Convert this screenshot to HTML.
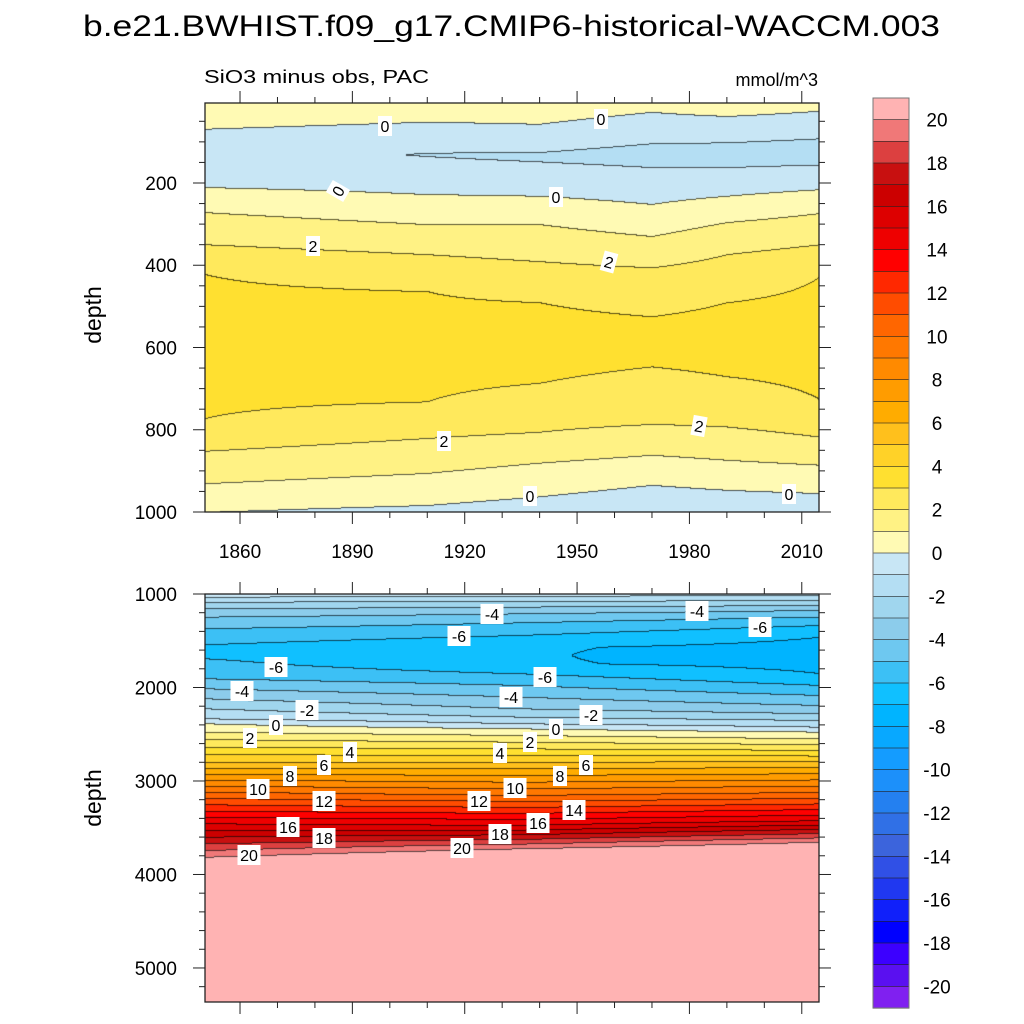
<!DOCTYPE html>
<html><head><meta charset="utf-8">
<style>
body{margin:0;background:#fff;width:1024px;height:1024px;overflow:hidden;font-family:"Liberation Sans",Arial,sans-serif}
#wrap{position:relative;width:1024px;height:1024px}
canvas{position:absolute}
svg{position:absolute;left:0;top:0}
</style></head><body>
<div id="wrap">
<canvas id="cTop" width="614" height="409" style="left:205px;top:103px"></canvas>
<canvas id="cBot" width="614" height="408" style="left:205px;top:594px"></canvas>
<svg id="svg" width="1024" height="1024">
<text x="83" y="36" font-size="30" textLength="857" lengthAdjust="spacingAndGlyphs">b.e21.BWHIST.f09_g17.CMIP6-historical-WACCM.003</text>
<text x="204" y="83" font-size="18" textLength="225" lengthAdjust="spacingAndGlyphs">SiO3 minus obs, PAC</text>
<text x="818" y="86" font-size="18" text-anchor="end">mmol/m^3</text>
<text transform="translate(101,315) rotate(-90)" font-size="23" text-anchor="middle">depth</text>
<text transform="translate(101,798) rotate(-90)" font-size="23" text-anchor="middle">depth</text>
</svg>
</div>
<script>
// ---- data ----
const levels = [-21,-20,-19,-18,-17,-16,-15,-14,-13,-12,-11,-10,-9,-8,-7,-6,-5,-4,-3,-2,-1,0,1,2,3,4,5,6,7,8,9,10,11,12,13,14,15,16,17,18,19,20,21];
const levelColors = ["#8020F0","#5A10F0","#3C00FF","#0000FF","#1020FA","#2038F0","#3050E6","#3C64DC","#3070E6","#2480F0","#1C90FA","#149CFF","#08A8FF","#00B4FF","#10C0FF","#3CC0F5","#6EC8F0","#8CCCEB","#A0D6EE","#B4DEF3","#C8E6F5",
"#FFFAB4","#FFF284","#FFE95C","#FFE030","#FFD228","#FFC01C","#FFAC00","#FF9C00","#FF8A00","#FF7800","#FF6600","#FF4C00","#FF2800","#FF0000","#EE0000","#DD0000","#CC0000","#C81010","#DC4040","#F07878","#FFB3B3"];
const cbLabels = ["20","18","16","14","12","10","8","6","4","2","0","-2","-4","-6","-8","-10","-12","-14","-16","-18","-20"];

// upper panel: profiles (depth m -> value) at several years
const topYears = [1851, 1910, 1940, 1970, 1990, 2015];
const topDepths = [
 [5, 68, 130, 210, 271, 349, 422, 600, 771, 851, 930, 1000],
 [5, 51, 130, 227, 300, 373, 463, 600, 731, 820, 905, 983],
 [5, 56, 135, 231, 300, 390, 490, 590, 686, 805, 880, 962],
 [5, 27, 130, 251, 329, 405, 524, 585, 646, 786, 861, 934],
 [5, 37, 130, 231, 295, 373, 490, 580, 670, 792, 873, 946],
 [5, 24, 125, 215, 273, 349, 426, 580, 727, 817, 885, 954]
];
const topValues = [
 [0.8, 0, -0.6, 0, 1, 2, 3, 3.6, 3, 2, 1, 0],
 [0.6, 0, -1.05, 0, 1, 2, 3, 3.5, 3, 2, 1, 0],
 [0.6, 0, -1.15, 0, 1, 2, 3, 3.5, 3, 2, 1, 0],
 [0.6, 0, -1.35, 0, 1, 2, 3, 3.4, 3, 2, 1, 0],
 [0.6, 0, -1.45, 0, 1, 2, 3, 3.5, 3, 2, 1, 0],
 [0.6, 0, -1.5, 0, 1, 2, 3, 3.5, 3, 2, 1, 0]
];
const topBottomValue = [-0.05, -0.3, -0.5, -0.8, -0.7, -0.6];

// lower panel
const botYears = [1851, 1935, 2015];
const botDepths = [
 [1000,1029,1082,1153,1242,1367,1538,1613,1688,1902,2009,2116,2223,2330,2383,2472,2793,3114,3453,3810,3880,5400],
 [1000,1018,1075,1135,1207,1303,1438,1563,1742,1848,1973,2098,2223,2312,2383,2437,2508,2830,3150,3470,3720,3790,5400],
 [1000,1011,1064,1118,1171,1242,1332,1456,1652,1848,1973,2080,2187,2276,2348,2419,2472,2544,2850,3150,3420,3649,3720,5400]
];
const botValues = [
 [-0.5,-1,-2,-3,-4,-5,-6,-6.6,-6,-5,-4,-3,-2,-1,0,1,5,10,15,20,21.2,22],
 [-0.5,-1,-2,-3,-4,-5,-6,-6.9,-6.9,-6,-5,-4,-3,-2,-1,0,1,5.5,10,15,20,21.2,22],
 [-0.5,-1,-2,-3,-4,-5,-6,-7,-7.5,-7,-6,-5,-4,-3,-2,-1,0,1,6,10.5,15,20,21.2,22]
];

// ---- axes ----
const X0=205, X1=819, Y0T=103, Y1T=512, Y0B=594, Y1B=1002;
const yrMin=1850.65, yrMax=2014.6;
const xScale = yr => X0 + (yr-yrMin)/(yrMax-yrMin)*(X1-X0);
const dTop0=5.5, dTop1=1000, dBot0=1000, dBot1=5364;
const yTop = d => Y0T + (d-dTop0)/(dTop1-dTop0)*(Y1T-Y0T);
const yBot = d => Y0B + (d-dBot0)/(dBot1-dBot0)*(Y1B-Y0B);

function interpProfile(ds, vs, d){
  if(d<=ds[0]) return vs[0];
  for(let i=1;i<ds.length;i++){ if(d<=ds[i]){const t=(d-ds[i-1])/(ds[i]-ds[i-1]);return vs[i-1]+t*(vs[i]-vs[i-1]);} }
  return vs[vs.length-1];
}
function field(years, depthsArr, valsArr, yr, d){
  let i=0; while(i<years.length-2 && yr>years[i+1]) i++;
  let t=(yr-years[i])/(years[i+1]-years[i]); t=Math.max(0,Math.min(1,t));
  const a=interpProfile(depthsArr[i],valsArr[i],d), b=interpProfile(depthsArr[i+1],valsArr[i+1],d);
  return a+t*(b-a);
}
function lvl(v){ let k=Math.floor(v)+21; return Math.max(0,Math.min(41,k)); }
function hex(c){return [parseInt(c.substr(1,2),16),parseInt(c.substr(3,2),16),parseInt(c.substr(5,2),16)];}
const rgb = levelColors.map(hex);

function render(canvasId, fn, yInv){
  const cv=document.getElementById(canvasId), ctx=cv.getContext('2d');
  const W=cv.width,H=cv.height, img=ctx.createImageData(W,H);
  const L=new Int16Array(W*H);
  for(let py=0;py<H;py++){ const d=yInv(py+0.5);
    for(let px=0;px<W;px++){ const yr=yrMin+(px+0.5)/W*(yrMax-yrMin); L[py*W+px]=lvl(fn(yr,d)); } }
  for(let py=0;py<H;py++) for(let px=0;px<W;px++){
    const k=L[py*W+px]; let c=rgb[k];
    const edge=(py>0&&L[(py-1)*W+px]!==k)||(px>0&&L[py*W+px-1]!==k);
    const o=(py*W+px)*4;
    if(edge){img.data[o]=c[0]*0.35;img.data[o+1]=c[1]*0.35;img.data[o+2]=c[2]*0.35;}
    else{img.data[o]=c[0];img.data[o+1]=c[1];img.data[o+2]=c[2];}
    img.data[o+3]=255;
  }
  ctx.putImageData(img,0,0);
}
const topDepthsExt = topDepths.map(p=>p.slice(0,-1).concat([p[p.length-1], 1001]));
const topValuesExt = topValues.map((p,j)=>p.slice(0,-1).concat([0, topBottomValue[j]]));
render('cTop',(yr,d)=>field(topYears, topDepthsExt, topValuesExt, yr, d), py=>dTop0+py/409*(dTop1-dTop0));
render('cBot',(yr,d)=>field(botYears,botDepths,botValues,yr,d), py=>dBot0+py/408*(dBot1-dBot0));

// ---- SVG overlay ----
const svg=document.getElementById('svg'), NS='http://www.w3.org/2000/svg';
function mk(tag,attrs,parent){const e=document.createElementNS(NS,tag);for(const k in attrs)e.setAttribute(k,attrs[k]);(parent||svg).appendChild(e);return e;}

const f1=mk('rect',{x:X0,y:Y0T,width:X1-X0,height:Y1T-Y0T,fill:'none',stroke:'#222','stroke-width':1.3});


const f2=mk('rect',{x:X0,y:Y0B,width:X1-X0,height:Y1B-Y0B,fill:'none',stroke:'#222','stroke-width':1.3});



const xTickYears=[1860,1890,1920,1950,1980,2010];
for(let yr=1860; yr<=2010; yr+=10){
  const x=xScale(yr), major=(yr-1860)%30===0, len=major?12:6;
  for(const [y,dir] of [[Y0T,-1],[Y1T,1],[Y0B,-1],[Y1B,1]]){
    const t=mk('line',{x1:x,x2:x,y1:y,y2:y+dir*len,stroke:'#222','stroke-width':1});
    
    
  }
}
xTickYears.forEach(yr=>{
  const t=mk('text',{x:xScale(yr),y:558,'font-size':19,'text-anchor':'middle'});
  t.textContent=yr;
  
  
});
for(let d=50; d<=1000; d+=50){
  const y=yTop(d), major=d%200===0, len=major?12:6;
  for(const [x,dir] of [[X0,-1],[X1,1]]){
    const t=mk('line',{x1:x,x2:x+dir*len,y1:y,y2:y,stroke:'#222','stroke-width':1});
    
    
  }
  if(major){const t=mk('text',{x:177,y:y+7,'font-size':19,'text-anchor':'end'});t.textContent=d;
    
    }
}
for(let d=1000; d<=5300; d+=200){
  const y=yBot(d), major=d%1000===0, len=major?12:6;
  for(const [x,dir] of [[X0,-1],[X1,1]]){
    const t=mk('line',{x1:x,x2:x+dir*len,y1:y,y2:y,stroke:'#222','stroke-width':1});
    
    
  }
  if(major){const t=mk('text',{x:177,y:y+7,'font-size':19,'text-anchor':'end'});t.textContent=d;
    
    }
}

const topLabels=[["0",385,126,0],["0",601,119,0],["0",338,191,-60],["0",556,197,0],["2",313,246,0],["2",609,262,15],["2",444,441,0],["2",699,426,10],["0",530,496,0],["0",789,494,0]];
const botLabels=[["-4",492,614],["-6",459,636],["-4",697,611],["-6",760,627],["-6",276,667],["-6",545,677],["-4",242,691],["-4",511,697],["-2",307,710],["-2",591,715],["0",276,725],["0",556,729],["2",250,738],["2",530,742],["4",350,752],["4",500,753],["6",324,765],["6",586,765],["8",290,776],["8",560,776],["10",258,789],["10",515,788],["12",324,801],["12",479,801],["14",574,810],["16",288,827],["16",538,823],["18",324,838],["18",500,834],["20",249,855],["20",462,848]];
topLabels.concat(botLabels.map(l=>[l[0],l[1],l[2],0])).forEach(l=>{
  const g=mk('g',{transform:`translate(${l[1]},${l[2]}) rotate(${l[3]})`});
  
  
  const w=l[0].length*9+5;
  mk('rect',{x:-w/2,y:-10,width:w,height:20,fill:'#fff'},g);
  const t=mk('text',{x:0,y:6,'font-size':16,'text-anchor':'middle'},g);
  t.textContent=l[0];
});

const CBX=873, CBW=36, CBT=98, CBB=1008, nb=levelColors.length, bh=(CBB-CBT)/nb;
const cb=mk('g',{});


for(let i=0;i<nb;i++){
  const k=nb-1-i;
  const r=mk('rect',{x:CBX,y:CBT+i*bh,width:CBW,height:bh+0.3,fill:levelColors[k],stroke:'#222','stroke-width':0.6},cb);
  
  
}
mk('rect',{x:CBX,y:CBT,width:CBW,height:CBB-CBT,fill:'none',stroke:'#777','stroke-width':1},cb);
cbLabels.forEach((s,i)=>{
  const y=CBT+(1+2*i)*bh;
  const t=mk('text',{x:937,y:y+7,'font-size':19,'text-anchor':'middle'},cb);
  t.textContent=s;
  
  
});
</script>
</body></html>
